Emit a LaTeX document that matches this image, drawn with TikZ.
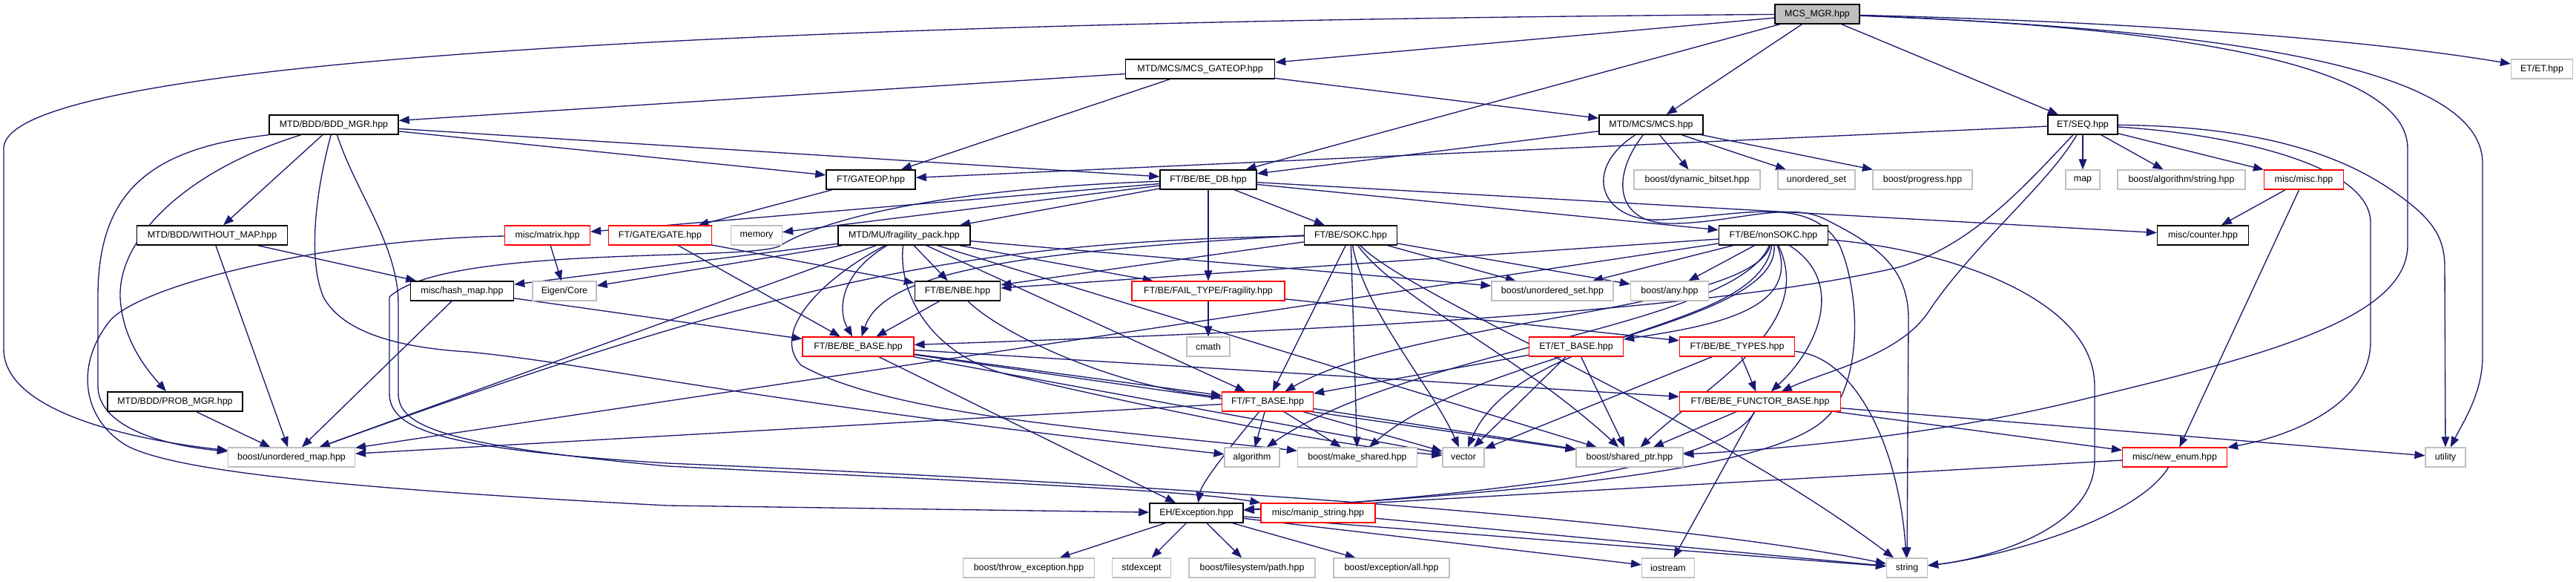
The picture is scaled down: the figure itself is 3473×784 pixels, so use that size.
\documentclass[tikz,border=0pt]{standalone}
\usepackage{fontspec}
\setmainfont{Liberation Sans}
\usetikzlibrary{arrows.meta}
\pgfdeclarelayer{edgelayer}
\pgfsetlayers{edgelayer,main}
\definecolor{edgec}{HTML}{191970}
\definecolor{grayb}{HTML}{BFBFBF}
\definecolor{redb}{HTML}{FF0000}
\begin{document}
\begin{tikzpicture}[x=0.3mm,y=-0.3mm,
 nb/.style={draw=black, line width=0.45mm, fill=white, minimum height=7.8mm, inner sep=0pt, font=\fontsize{10.6}{12}\selectfont},
 rb/.style={nb, draw=redb, line width=0.35mm},
 gb/.style={nb, draw=grayb, line width=0.35mm},
 rootb/.style={nb, fill=grayb},
 e/.style={draw=edgec, line width=0.4mm, -{Triangle[length=4.2mm,width=3.2mm]}}]
\useasboundingbox (0,0) rectangle (3473,784);
% row 0
\node[rootb, minimum width=34.2mm] (mcsmgr) at (2450,19) {MCS\_MGR.hpp};
% row 1
\node[nb, minimum width=60.3mm] (gateopmcs) at (1618,93) {MTD/MCS/MCS\_GATEOP.hpp};
\node[gb, minimum width=24.9mm] (etet) at (3427,93) {ET/ET.hpp};
% row 2
\node[nb, minimum width=52.2mm] (bddmgr) at (450,168) {MTD/BDD/BDD\_MGR.hpp};
\node[nb, minimum width=42mm] (mcs) at (2226,168) {MTD/MCS/MCS.hpp};
\node[nb, minimum width=28.2mm] (seq) at (2808,168) {ET/SEQ.hpp};
% row 3
\node[nb, minimum width=36mm] (ftgateop) at (1174,242) {FT/GATEOP.hpp};
\node[nb, minimum width=39mm] (bedb) at (1629,242) {FT/BE/BE\_DB.hpp};
\node[gb, minimum width=51mm] (dynbitset) at (2288,242) {boost/dynamic\_bitset.hpp};
\node[gb, minimum width=31.2mm] (unordset) at (2449,242) {unordered\_set};
\node[gb, minimum width=40.2mm] (progress) at (2592,242) {boost/progress.hpp};
\node[gb, minimum width=13.8mm] (map) at (2808,242) {map};
\node[gb, minimum width=51.6mm] (algstring) at (2941,242) {boost/algorithm/string.hpp};
\node[rb, minimum width=32.1mm] (misc) at (3106,242) {misc/misc.hpp};
% row 4
\node[nb, minimum width=60.9mm] (withoutmap) at (286,317) {MTD/BDD/WITHOUT\_MAP.hpp};
\node[rb, minimum width=34.5mm] (matrix) at (738,317) {misc/matrix.hpp};
\node[rb, minimum width=41.7mm] (gate) at (890,317) {FT/GATE/GATE.hpp};
\node[gb, minimum width=20.7mm] (memory) at (1020,317) {memory};
\node[nb, minimum width=53.4mm] (fragpack) at (1219,317) {MTD/MU/fragility\_pack.hpp};
\node[nb, minimum width=37.5mm] (sokc) at (1821,317) {FT/BE/SOKC.hpp};
\node[nb, minimum width=44.1mm] (nonsokc) at (2391,317) {FT/BE/nonSOKC.hpp};
\node[nb, minimum width=36.9mm] (counter) at (2970,317) {misc/counter.hpp};
% row 5
\node[nb, minimum width=41.7mm] (hashmap) at (623,392) {misc/hash\_map.hpp};
\node[gb, minimum width=25.8mm] (eigen) at (761,392) {Eigen/Core};
\node[nb, minimum width=34.5mm] (nbe) at (1291,392) {FT/BE/NBE.hpp};
\node[rb, minimum width=61.8mm] (fragility) at (1629,392) {FT/BE/FAIL\_TYPE/Fragility.hpp};
\node[gb, minimum width=49.2mm] (bunordset) at (2093,392) {boost/unordered\_set.hpp};
\node[gb, minimum width=31.5mm] (any) at (2251,392) {boost/any.hpp};
% row 6
\node[rb, minimum width=45mm] (bebase) at (1157,467) {FT/BE/BE\_BASE.hpp};
\node[gb, minimum width=17.4mm] (cmath) at (1629,467) {cmath};
\node[rb, minimum width=38.1mm] (etbase) at (2125,467) {ET/ET\_BASE.hpp};
\node[rb, minimum width=46.5mm] (betypes) at (2342,467) {FT/BE/BE\_TYPES.hpp};
% row 7
\node[nb, minimum width=54.6mm] (probmgr) at (236,541) {MTD/BDD/PROB\_MGR.hpp};
\node[rb, minimum width=36.9mm] (ftbase) at (1709,541) {FT/FT\_BASE.hpp};
\node[rb, minimum width=65.1mm] (functor) at (2373,541) {FT/BE/BE\_FUNCTOR\_BASE.hpp};
% row 8
\node[gb, minimum width=51.3mm] (unordmap) at (393,616) {boost/unordered\_map.hpp};
\node[gb, minimum width=22.2mm] (algorithm) at (1688,616) {algorithm};
\node[gb, minimum width=48.3mm] (makeshared) at (1830,616) {boost/make\_shared.hpp};
\node[gb, minimum width=16.8mm] (vector) at (1973,616) {vector};
\node[gb, minimum width=43.2mm] (sharedptr) at (2197,616) {boost/shared\_ptr.hpp};
\node[rb, minimum width=42.3mm] (newenum) at (2932,616) {misc/new\_enum.hpp};
\node[gb, minimum width=16.2mm] (utility) at (3297,616) {utility};
% row 9
\node[nb, minimum width=37.8mm] (exception) at (1613,691) {EH/Exception.hpp};
\node[rb, minimum width=46.2mm] (manip) at (1777,691) {misc/manip\_string.hpp};
% row 10
\node[gb, minimum width=53.1mm] (throwexc) at (1387,765) {boost/throw\_exception.hpp};
\node[gb, minimum width=23.7mm] (stdexcept) at (1539,765) {stdexcept};
\node[gb, minimum width=51mm] (fspath) at (1688,765) {boost/filesystem/path.hpp};
\node[gb, minimum width=46.8mm] (excall) at (1876,765) {boost/exception/all.hpp};
\node[gb, minimum width=21.3mm] (iostream) at (2249,765) {iostream};
\node[gb, minimum width=16.5mm] (string) at (2571,765) {string};

\begin{pgfonlayer}{edgelayer}
% straight edges
\foreach \a/\b in {mcsmgr/gateopmcs, mcsmgr/mcs, mcsmgr/bedb, mcsmgr/seq,
 gateopmcs/bddmgr, gateopmcs/ftgateop, gateopmcs/mcs,
 bddmgr/withoutmap, bddmgr/ftgateop, bddmgr/bedb,
 mcs/bedb, mcs/dynbitset, mcs/unordset, mcs/progress,
 seq/ftgateop, seq/map, seq/algstring, seq/misc,
 ftgateop/gate,
 bedb/matrix, bedb/memory, bedb/fragpack, bedb/sokc, bedb/nonsokc, bedb/counter, bedb/fragility,
 withoutmap/hashmap, withoutmap/unordmap,
 matrix/eigen,
 gate/bebase, gate/nbe,
 fragpack/hashmap, fragpack/eigen, fragpack/unordmap, fragpack/nbe, fragpack/fragility, fragpack/bunordset, fragpack/ftbase, fragpack/sharedptr,
 misc/counter, misc/newenum,
 sokc/nbe, sokc/ftbase, sokc/makeshared, sokc/bunordset, sokc/any,
 nonsokc/nbe, nonsokc/bunordset, nonsokc/any, nonsokc/unordmap,
 hashmap/unordmap, hashmap/bebase,
 nbe/bebase,
 fragility/cmath, fragility/betypes,
 bebase/ftbase, bebase/functor, bebase/exception, bebase/sharedptr, bebase/vector,
 etbase/ftbase, etbase/vector, etbase/sharedptr,
 betypes/functor, betypes/vector,
 probmgr/unordmap,
 ftbase/unordmap, ftbase/algorithm, ftbase/makeshared, ftbase/vector, ftbase/sharedptr,
 functor/sharedptr, functor/iostream, functor/newenum, functor/utility,
 newenum/exception,
 exception/throwexc, exception/stdexcept, exception/fspath, exception/excall, exception/iostream, exception/string,
 manip/string}
 {\draw[e] (\a) -- (\b);}
% curved edges
\draw[e] (mcsmgr) .. controls (2900,30) and (3200,55) .. (etet);
\draw[e] (mcsmgr) .. controls (1200,28) and (5,70) .. (5,200) -- (5,470) .. controls (5,560) and (200,595) .. (unordmap);
\draw[e] (mcsmgr) .. controls (2900,35) and (3246,80) .. (3246,200) -- (3246,330) .. controls (3246,430) and (3050,480) .. (2800,540) .. controls (2600,588) and (2400,605) .. (sharedptr);
\draw[e] (mcsmgr) .. controls (3000,40) and (3347,90) .. (3347,220) -- (3347,480) .. controls (3347,530) and (3320,570) .. (utility);
\draw[e] (bddmgr.south west) .. controls (200,200) and (132,260) .. (132,400) -- (132,520) .. controls (132,575) and (220,600) .. (unordmap);
\draw[e] (bddmgr) .. controls (250,230) and (160,320) .. (162,400) .. controls (165,460) and (200,500) .. (probmgr);
\draw[e] (bddmgr) .. controls (425,260) and (415,350) .. (436,400) .. controls (460,445) and (530,468) .. (631,474) .. controls (800,490) and (1000,540) .. (algorithm);
\draw[e] (bddmgr) .. controls (480,260) and (537,330) .. (537,410) -- (537,530) .. controls (537,575) and (600,600) .. (900,628) .. controls (1300,648) and (1600,660) .. (manip);
\draw[e] (bedb) .. controls (1250,255) and (1100,300) .. (1050,332) .. controls (1000,352) and (600,330) .. (525,400) -- (525,530) .. controls (525,580) and (600,605) .. (900,624) .. controls (1400,645) and (2200,690) .. (string);
\draw[e] (matrix) .. controls (450,322) and (200,380) .. (150,430) .. controls (100,490) and (110,565) .. (172,601) .. controls (230,630) and (400,655) .. (900,681) -- (exception);
\draw[e] (mcs) .. controls (2130,230) and (2160,300) .. (2240,296) .. controls (2350,290) and (2440,262) .. (2480,330) .. controls (2510,400) and (2510,520) .. (2460,565) .. controls (2380,640) and (2000,665) .. (exception);
\draw[e] (mcs) .. controls (2170,240) and (2180,300) .. (2250,301) .. controls (2330,302) and (2410,270) .. (2460,295) .. controls (2530,330) and (2573,360) .. (2573,430) -- (string);
\draw[e] (seq) .. controls (3000,180) and (3196,220) .. (3196,300) -- (3196,460) .. controls (3196,540) and (3100,585) .. (newenum);
\draw[e] (seq) .. controls (3050,170) and (3160,210) .. (3230,260) .. controls (3280,295) and (3296,320) .. (3296,360) -- (utility);
\draw[e] (seq) .. controls (2760,250) and (2660,330) .. (2600,420) .. controls (2560,480) and (2460,500) .. (functor);
\draw[e] (seq) .. controls (2730,250) and (2660,330) .. (2560,360) .. controls (2300,420) and (1800,445) .. (bebase);
\draw[e] (fragpack) .. controls (1130,370) and (1130,420) .. (bebase);
\draw[e] (fragpack) .. controls (1100,380) and (1040,450) .. (1080,492) .. controls (1200,560) and (1500,580) .. (makeshared);
\draw[e] (fragpack) .. controls (1210,400) and (1260,480) .. (1360,505) .. controls (1600,560) and (1800,600) .. (vector);
\draw[e] (sokc.west) .. controls (1350,340) and (1190,370) .. (bebase);
\draw[e] (sokc) .. controls (1300,325) and (1050,380) .. (unordmap);
\draw[e] (sokc) .. controls (1840,420) and (1930,520) .. (vector);
\draw[e] (sokc) .. controls (1880,400) and (2050,480) .. (sharedptr);
\draw[e] (sokc) .. controls (1900,400) and (2300,560) .. (string);
\draw[e] (nonsokc) .. controls (2360,420) and (1900,430) .. (ftbase);
\draw[e] (nonsokc) .. controls (2430,420) and (2300,440) .. (etbase);
\draw[e] (nonsokc) .. controls (2490,380) and (2450,470) .. (functor);
\draw[e] (nonsokc) .. controls (2400,440) and (2000,470) .. (makeshared);
\draw[e] (nonsokc) .. controls (2370,450) and (2050,440) .. (vector);
\draw[e] (nonsokc) .. controls (2450,440) and (2300,520) .. (sharedptr);
\draw[e] (nonsokc) .. controls (2340,440) and (1900,470) .. (algorithm);
\draw[e] (nonsokc) .. controls (2620,335) and (2824,400) .. (2824,520) -- (2824,620) .. controls (2824,720) and (2660,755) .. (string);
\draw[e] (nbe) .. controls (1350,450) and (1500,520) .. (ftbase);
\draw[e] (betypes) .. controls (2500,480) and (2560,600) .. (string);
\draw[e] (ftbase) .. controls (1660,600) and (1620,650) .. (exception);
\draw[e] (functor) .. controls (2330,620) and (2100,660) .. (exception);
\draw[e] (newenum) .. controls (2880,700) and (2700,750) .. (string);
\end{pgfonlayer}
\end{tikzpicture}
\end{document}
